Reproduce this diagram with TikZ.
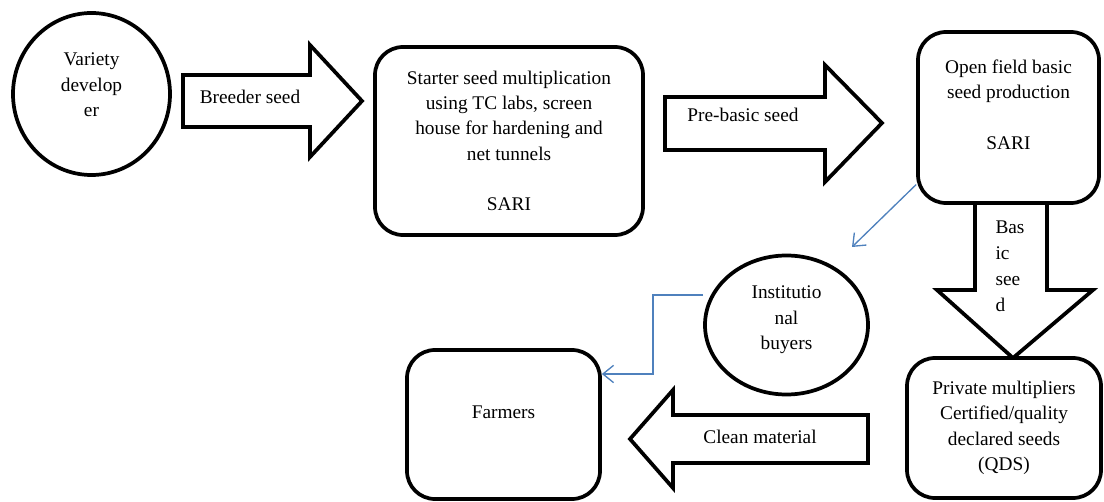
\documentclass[tikz,border=0pt]{standalone}
\usepackage{fontspec}
\setmainfont{Liberation Serif}
\usetikzlibrary{arrows.meta,shapes.geometric}
\definecolor{linkblue}{RGB}{79,129,189}
\begin{document}
\begin{tikzpicture}[x=0.75pt,y=-0.75pt,
  every node/.style={font=\fontsize{14.5pt}{19pt}\selectfont, align=center, inner sep=0pt},
  rbox/.style={draw, line width=2.8pt, rounded corners=21pt, fill=white},
  oval/.style={draw, ellipse, line width=2.8pt, fill=white},
  barrow/.style={draw, line width=2.8pt, line join=miter, fill=white},
  link/.style={draw=linkblue, line width=1pt, -{Straight Barb[length=8pt,width=13pt]}},
]
\useasboundingbox (0,0) rectangle (1104,502);

% block arrows
\draw[barrow] (183,75) -- (310,75) -- (310,45) -- (362,101) -- (310,157) -- (310,127) -- (183,127) -- cycle;
\draw[barrow] (665,97) -- (825,97) -- (825,65) -- (882,123) -- (825,182) -- (825,150) -- (665,150) -- cycle;
\draw[barrow] (975,203) -- (975,290) -- (937,290) -- (1013,358) -- (1093,290) -- (1047,290) -- (1047,203) -- cycle;
\draw[barrow] (868,415) -- (673,415) -- (673,390) -- (630,439) -- (673,488) -- (673,463) -- (868,463) -- cycle;

% nodes
\node[oval, minimum width=117.75pt, minimum height=121.5pt] (var) at (91.5,94) {Variety\\develop\\er\\[-5pt]\mbox{}};
\node[rbox, minimum width=201pt, minimum height=141pt] (starter) at (509,141)
  {Starter seed multiplication\\using TC labs, screen\\house for hardening and\\net tunnels\\[19pt]SARI};
\node[rbox, minimum width=135.75pt, minimum height=128.25pt] (open) at (1008.5,117.5)
  {Open field basic\\seed production\\[19pt]SARI\\\mbox{}};
\node[rbox, minimum width=145.5pt, minimum height=105pt] (priv) at (1004,428)
  {Private multipliers\\Certified/quality\\declared seeds\\(QDS)};
\node[oval, minimum width=122.25pt, minimum height=104.25pt] (inst) at (786.5,325)
  {Institutio\\nal\\buyers\\[-8pt]\mbox{}};
\node[rbox, minimum width=144.75pt, minimum height=111.75pt] (farm) at (503.5,424.5)
  {Farmers\\\mbox{}};

% arrow labels
\node (brlbl) at (250,97) {Breeder seed};
\node (pblbl) at (743,115) {Pre-basic seed};
\node (cmlbl) at (760,437) {Clean material};
\node[align=left, font=\fontsize{14.5pt}{19.5pt}\selectfont] (bslbl) at (1010,266) {Bas\\ic\\see\\d};

% blue connectors
\coordinate (tipA) at (852,247);
\draw[link] (open.216) -- (tipA);
\draw[link] (inst.west |- 0,295) -- (653,295) |- (farm.east |- 0,374);
\end{tikzpicture}
\end{document}
